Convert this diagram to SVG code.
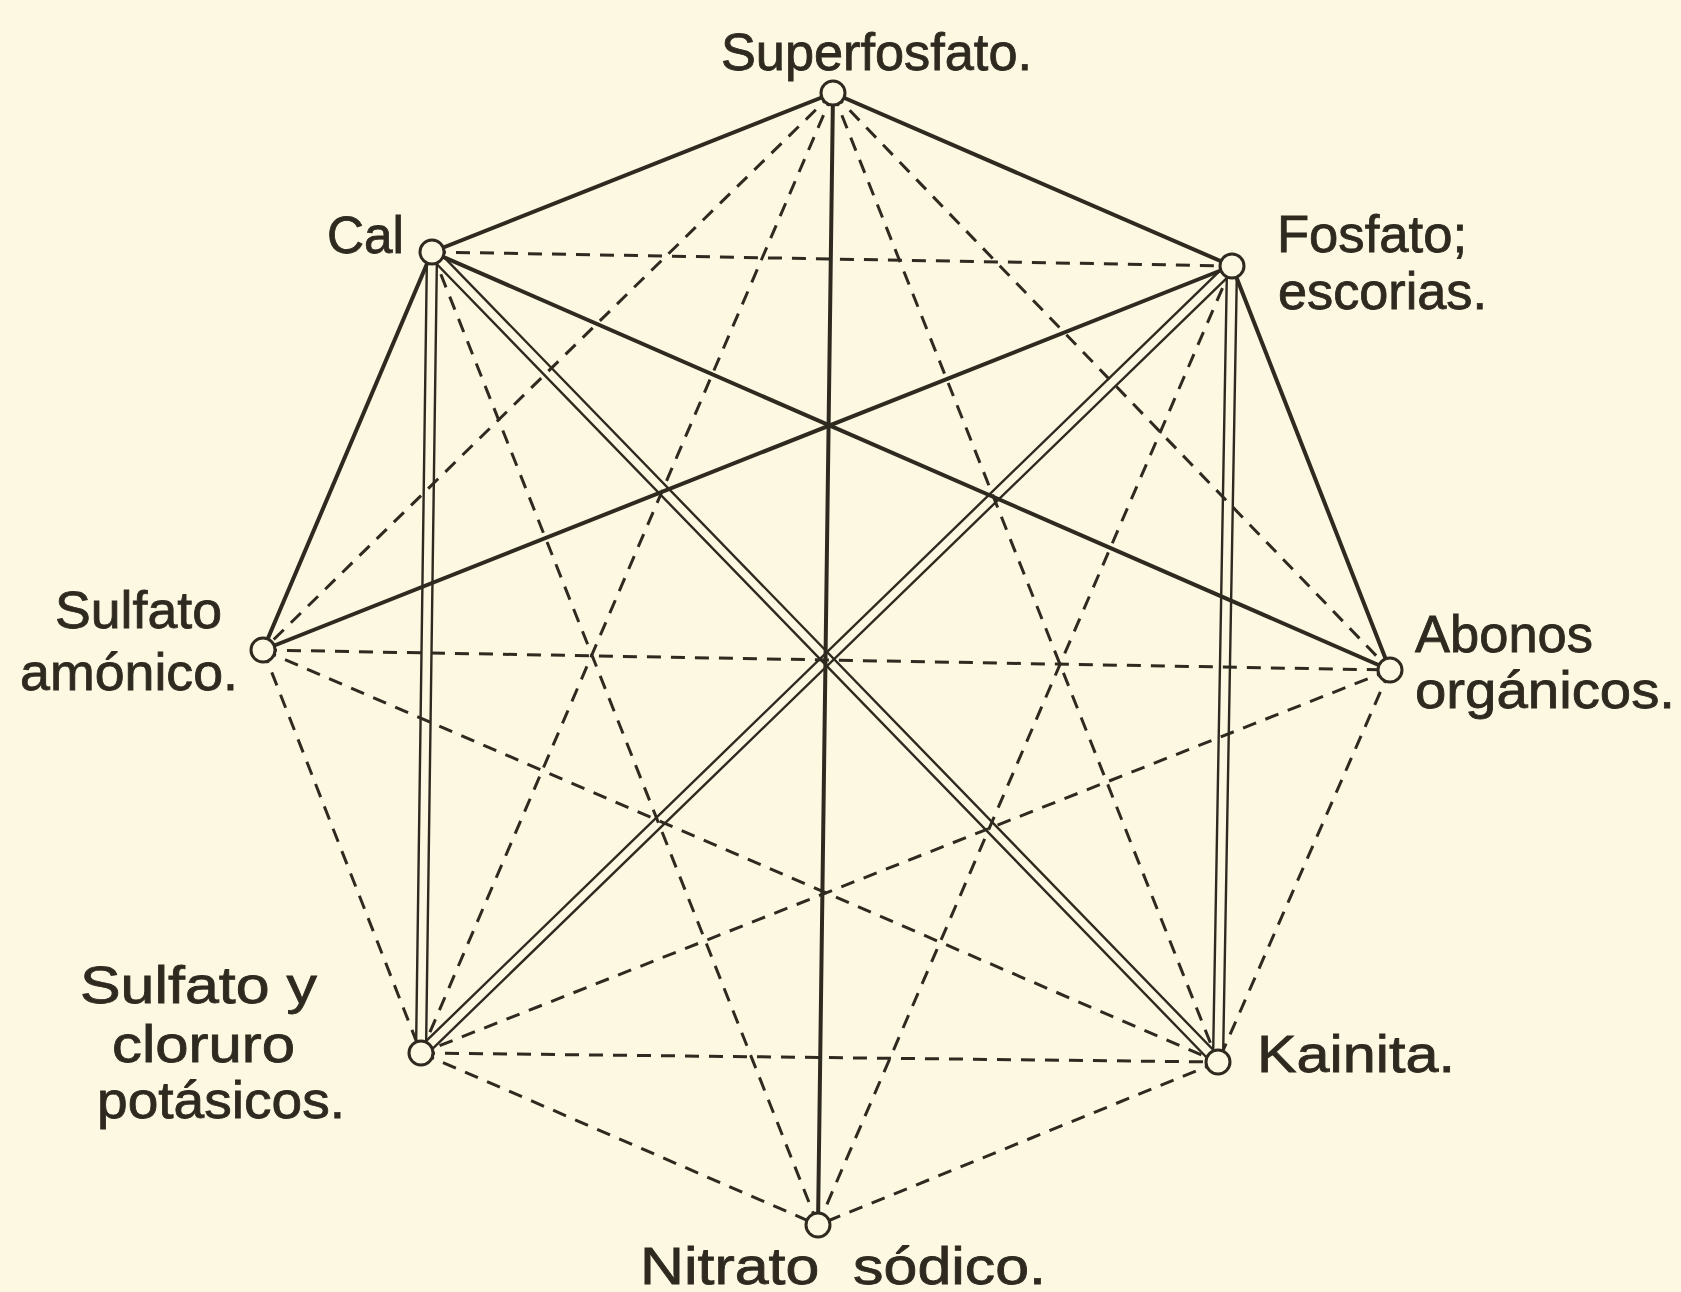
<svg xmlns="http://www.w3.org/2000/svg" width="1681" height="1292" viewBox="0 0 1681 1292">
<style>
.bg{fill:#FCF8E1}
.solid{stroke:#2f2a20;stroke-width:4;stroke-linecap:round;fill:none}
.dbl{stroke:#2f2a20;stroke-width:2.4;stroke-linecap:round;fill:none}
.dash{stroke:#2f2a20;stroke-width:3;stroke-dasharray:14 10;fill:none}
.node{fill:#FCF8E1;stroke:#2f2a20;stroke-width:3}
.lbl{font-family:"Liberation Sans","DejaVu Sans",sans-serif;font-size:52px;fill:#2f2a20;stroke:#2f2a20;stroke-width:0.8}
</style>
<rect class="bg" x="0" y="0" width="1681" height="1292"/>
<g id="connectors">
  <g id="dashed">
    <line class="dash" x1="833" y1="93" x2="263" y2="650"/>
    <line class="dash" x1="833" y1="93" x2="1390" y2="670"/>
    <line class="dash" x1="833" y1="93" x2="421" y2="1053"/>
    <line class="dash" x1="833" y1="93" x2="1218" y2="1062"/>
    <line class="dash" x1="432" y1="252" x2="1232" y2="266"/>
    <line class="dash" x1="432" y1="252" x2="818" y2="1225"/>
    <line class="dash" x1="1232" y1="266" x2="818" y2="1225"/>
    <line class="dash" x1="263" y1="650" x2="1390" y2="670"/>
    <line class="dash" x1="263" y1="650" x2="421" y2="1053"/>
    <line class="dash" x1="263" y1="650" x2="1218" y2="1062"/>
    <line class="dash" x1="1390" y1="670" x2="421" y2="1053"/>
    <line class="dash" x1="1390" y1="670" x2="1218" y2="1062"/>
    <line class="dash" x1="421" y1="1053" x2="1218" y2="1062"/>
    <line class="dash" x1="421" y1="1053" x2="818" y2="1225"/>
    <line class="dash" x1="1218" y1="1062" x2="818" y2="1225"/>
  </g>
  <g id="double">
    <line class="dbl" x1="437" y1="252.07" x2="426" y2="1053.07"/>
    <line class="dbl" x1="427" y1="251.93" x2="416" y2="1052.93"/>
    <line class="dbl" x1="435.59" y1="248.52" x2="1221.59" y2="1058.52"/>
    <line class="dbl" x1="428.41" y1="255.48" x2="1214.41" y2="1065.48"/>
    <line class="dbl" x1="1235.48" y1="269.59" x2="424.48" y2="1056.59"/>
    <line class="dbl" x1="1228.52" y1="262.41" x2="417.52" y2="1049.41"/>
    <line class="dbl" x1="1237" y1="266.09" x2="1223" y2="1062.09"/>
    <line class="dbl" x1="1227" y1="265.91" x2="1213" y2="1061.91"/>
  </g>
  <g id="solid">
    <line class="solid" x1="833" y1="93" x2="432" y2="252"/>
    <line class="solid" x1="833" y1="93" x2="1232" y2="266"/>
    <line class="solid" x1="833" y1="93" x2="818" y2="1225"/>
    <line class="solid" x1="432" y1="252" x2="263" y2="650"/>
    <line class="solid" x1="432" y1="252" x2="1390" y2="670"/>
    <line class="solid" x1="1232" y1="266" x2="263" y2="650"/>
    <line class="solid" x1="1232" y1="266" x2="1390" y2="670"/>
  </g>
</g>
<g id="superfosfato">
  <circle class="node" cx="833" cy="93" r="12"/>
  <text class="lbl" x="721" y="70" textLength="311" lengthAdjust="spacingAndGlyphs">Superfosfato.</text>
</g>
<g id="cal">
  <circle class="node" cx="432" cy="252" r="12"/>
  <text class="lbl" x="327" y="253" textLength="77" lengthAdjust="spacingAndGlyphs">Cal</text>
</g>
<g id="fosfato">
  <circle class="node" cx="1232" cy="266" r="12"/>
  <text class="lbl" x="1277" y="252" textLength="190" lengthAdjust="spacingAndGlyphs">Fosfato;</text>
  <text class="lbl" x="1278" y="309" textLength="209" lengthAdjust="spacingAndGlyphs">escorias.</text>
</g>
<g id="sulfato-amonico">
  <circle class="node" cx="263" cy="650" r="12"/>
  <text class="lbl" x="55" y="628" textLength="167" lengthAdjust="spacingAndGlyphs">Sulfato</text>
  <text class="lbl" x="20" y="690" textLength="218" lengthAdjust="spacingAndGlyphs">amónico.</text>
</g>
<g id="abonos-organicos">
  <circle class="node" cx="1390" cy="670" r="12"/>
  <text class="lbl" x="1415" y="652" textLength="178" lengthAdjust="spacingAndGlyphs">Abonos</text>
  <text class="lbl" x="1415" y="708" textLength="260" lengthAdjust="spacingAndGlyphs">orgánicos.</text>
</g>
<g id="sulfato-cloruro-potasicos">
  <circle class="node" cx="421" cy="1053" r="12"/>
  <text class="lbl" x="80" y="1003" textLength="237" lengthAdjust="spacingAndGlyphs">Sulfato y</text>
  <text class="lbl" x="112" y="1062" textLength="183" lengthAdjust="spacingAndGlyphs">cloruro</text>
  <text class="lbl" x="97" y="1118" textLength="248" lengthAdjust="spacingAndGlyphs">potásicos.</text>
</g>
<g id="kainita">
  <circle class="node" cx="1218" cy="1062" r="12"/>
  <text class="lbl" x="1257" y="1072" textLength="198" lengthAdjust="spacingAndGlyphs">Kainita.</text>
</g>
<g id="nitrato-sodico">
  <circle class="node" cx="818" cy="1225" r="12"/>
  <text class="lbl" x="640" y="1284" textLength="406" lengthAdjust="spacingAndGlyphs" xml:space="preserve">Nitrato  sódico.</text>
</g>
</svg>
